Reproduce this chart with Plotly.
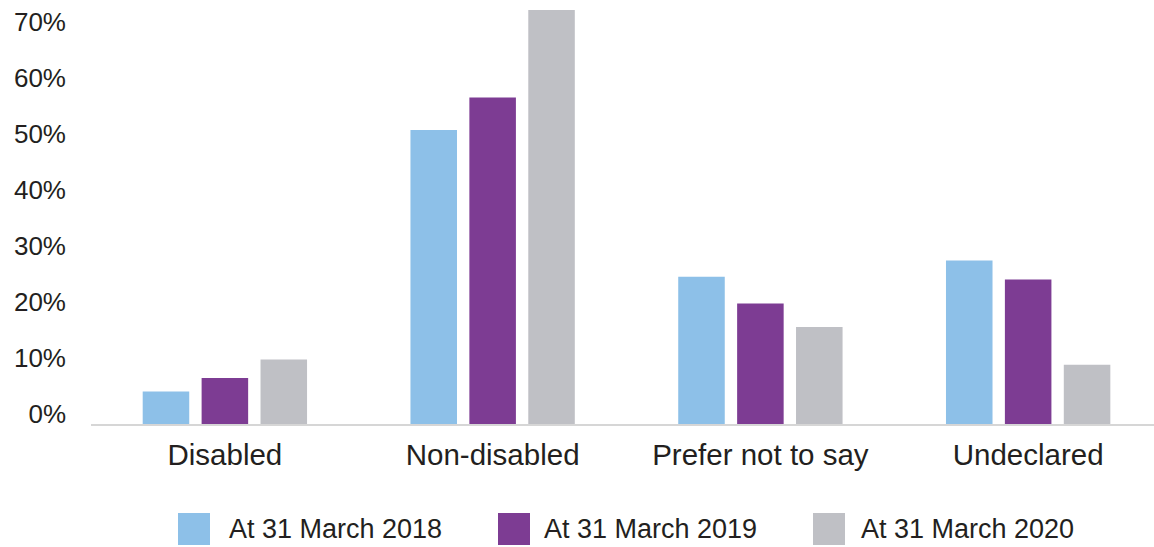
import plotly.graph_objects as go

# Disability status of staff, share of total
categories = ["Disabled", "Non-disabled", "Prefer not to say", "Undeclared"]
series_names = ["At 31 March 2018", "At 31 March 2019", "At 31 March 2020"]
values_2018 = [5.8, 52.5, 26.3, 29.2]
values_2019 = [8.2, 58.3, 21.5, 25.8]
values_2020 = [11.5, 73.9, 17.3, 10.6]
series_colors = ["#8DC0E8", "#7D3C93", "#BFC0C5"]
y_ticks = [0, 10, 20, 30, 40, 50, 60, 70]
y_tick_labels = ["0%", "10%", "20%", "30%", "40%", "50%", "60%", "70%"]

FONT = "Liberation Sans, Arial, Helvetica, sans-serif"
TEXT = "#231F20"

W, H = 1154, 547
ML, MR, MT, MB = 91, 0, 0, 123
plot_w = W - ML - MR
plot_h = H - MT - MB

fig = go.Figure()
for name, vals, col in zip(series_names, [values_2018, values_2019, values_2020], series_colors):
    fig.add_trace(go.Bar(
        x=categories, y=vals, name=name,
        marker=dict(color=col, line=dict(width=0)),
        showlegend=False,
    ))

# Legend row below the chart: large square swatches with labels
legend_swatch_left = [178, 498, 813]
legend_text_left = [227, 542, 859]
sw_top, sw_bot = 513, 545
shapes = []
annotations = []
for name, col, sx, tx in zip(series_names, series_colors, legend_swatch_left, legend_text_left):
    shapes.append(dict(
        type="rect", xref="paper", yref="paper", layer="above",
        x0=(sx - ML) / plot_w, x1=(sx + 32 - ML) / plot_w,
        y0=(MT + plot_h - sw_bot) / plot_h, y1=(MT + plot_h - sw_top) / plot_h,
        fillcolor=col, line=dict(width=0),
    ))
    annotations.append(dict(
        text=name, xref="paper", yref="paper", showarrow=False,
        x=(tx - ML) / plot_w, y=(MT + plot_h - (sw_top + sw_bot) / 2) / plot_h,
        xanchor="left", yanchor="middle",
        font=dict(family=FONT, size=27, color=TEXT),
    ))

fig.update_layout(
    width=W, height=H,
    margin=dict(l=ML, r=MR, t=MT, b=MB, pad=0),
    paper_bgcolor="white", plot_bgcolor="white",
    barmode="group", bargap=0.34, bargroupgap=0.21,
    shapes=shapes, annotations=annotations,
    showlegend=False,
)
fig.update_xaxes(
    range=[-0.5, 3.47],
    showline=True, linecolor="#D6D6D6", linewidth=2,
    showgrid=False, ticks="", zeroline=False,
    tickfont=dict(family=FONT, size=29.5, color=TEXT),
    ticklabelstandoff=4,
)
fig.update_yaxes(
    range=[0, 75.7],
    tickvals=y_ticks, ticktext=y_tick_labels,
    showgrid=False, zeroline=False, showline=False, ticks="",
    tickfont=dict(family=FONT, size=26, color=TEXT),
    ticklabelstandoff=24, ticklabelshift=-10,
)

fig.write_html("out.html")
